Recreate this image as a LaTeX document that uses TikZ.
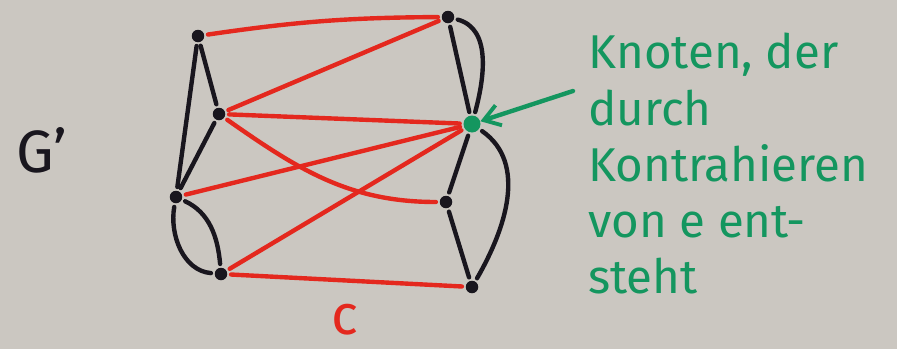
\documentclass[tikz,border=0pt]{standalone}
\usepackage{fontspec}
\setmainfont{Fira Sans}
\usetikzlibrary{arrows.meta}
\definecolor{board}{RGB}{203,199,193}
\definecolor{mred}{RGB}{228,40,30}
\definecolor{mgreen}{RGB}{20,150,95}
\definecolor{mblack}{RGB}{25,22,30}
\tikzset{
  dot/.style={circle,fill=mblack,inner sep=0pt,minimum size=0.25cm},
  gdot/.style={circle,fill=mgreen,inner sep=0pt,minimum size=0.34cm},
  bedge/.style={draw=mblack,line width=2.5pt,line cap=round,shorten <=2pt,shorten >=2pt},
  redge/.style={draw=mred,line width=2.5pt,line cap=round,shorten <=2pt,shorten >=2pt},
  garrow/.style={draw=mgreen,line width=2.5pt,line cap=round,-{Straight Barb[length=9pt,width=12pt,line width=2.2pt]}},
  note/.style={text=mgreen,font=\fontsize{27}{32}\selectfont,align=left,inner sep=0pt}
}
\begin{document}
\begin{tikzpicture}[x=0.02cm,y=-0.02cm]
\fill[board] (0,0) rectangle (897,349);
\useasboundingbox (0,0) rectangle (897,349);
% vertices
\node[dot] (L1) at (198,36) {};
\node[dot] (L2) at (219,114) {};
\node[dot] (L3) at (176,197) {};
\node[dot] (L4) at (221,274) {};
\node[dot] (R1) at (448,17) {};
\node[gdot] (R2) at (472,124) {};
\node[dot] (R3) at (446,202) {};
\node[dot] (R4) at (472,287) {};
% black edges
\path[bedge] (L1) -- (L2);
\path[bedge] (L1) -- (L3);
\path[bedge] (L2) -- (L3);
\path[bedge] (L3) to[out=-100,in=175] (L4);
\path[bedge] (L3) to[out=-25,in=95] (L4);
\path[bedge] (R1) -- (R2);
\path[bedge] (R1) to[out=-15,in=75] (R2);
\path[bedge] (R2) -- (R3);
\path[bedge] (R2) to[out=-35,in=60] (R4);
\path[bedge] (R3) -- (R4);
% red edges
\path[redge] (L1) to[bend left=4] (R1);
\path[redge] (L2) -- (R1);
\path[redge] (L2) -- (R2);
\path[redge] (L2) to[out=-35,in=180] (R3);
\path[redge] (L3) -- (R2);
\path[redge] (L4) -- (R2);
\path[redge] (L4) -- (R4);
% labels
\node[text=mblack,font=\fontsize{34}{40}\selectfont] (G) at (42,150) {G'};
\node[text=mred,font=\fontsize{32}{36}\selectfont,inner sep=0pt] (c) at (345,320) {c};
\node[note,anchor=north west] (txt) at (588,33) {Knoten, der\\durch\\Kontrahieren\\von e ent-\\steht};
\coordinate (tail) at (573,91);
\path[garrow] (tail) -- (R2);
\end{tikzpicture}
\end{document}
